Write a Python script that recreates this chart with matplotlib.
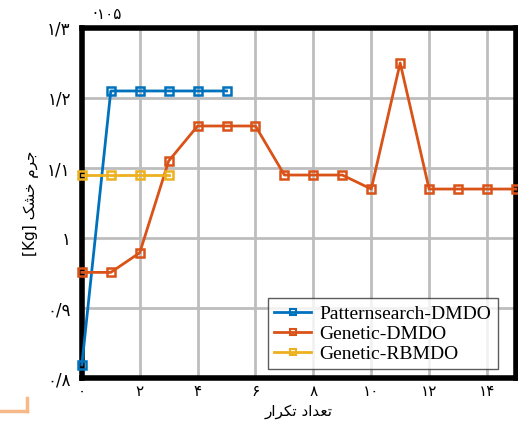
import matplotlib
matplotlib.use("Agg")
import matplotlib.pyplot as plt
from matplotlib.lines import Line2D

# Iteration numbers and dry-mass values (x 10^5 kg)
iter_pattern = [0, 1, 2, 3, 4, 5]
mass_pattern = [0.819, 1.21, 1.21, 1.21, 1.21, 1.21]

iter_genetic = [0, 1, 2, 3, 4, 5, 6, 7, 8, 9, 10, 11, 12, 13, 14, 15]
mass_genetic = [0.951, 0.951, 0.979, 1.11, 1.16, 1.16, 1.16, 1.09,
                1.09, 1.09, 1.07, 1.25, 1.07, 1.07, 1.07, 1.07]

iter_rbmdo = [0, 1, 2, 3]
mass_rbmdo = [1.09, 1.09, 1.09, 1.09]

series_names = ["Patternsearch-DMDO", "Genetic-DMDO", "Genetic-RBMDO"]
colors = ["#0072bd", "#d95319", "#edb120"]

x_ticks = [0, 2, 4, 6, 8, 10, 12, 14]
x_labels = ["۰", "۲", "۴", "۶", "۸", "۱۰", "۱۲", "۱۴"]
y_ticks = [0.8, 0.9, 1.0, 1.1, 1.2, 1.3]
y_labels = ["۰/۸", "۰/۹", "۱", "۱/۱", "۱/۲", "۱/۳"]

# Persian labels written in shaped presentation forms, visual order
xlabel_text = "\uFEAD\uFE8D\uFEAE\uFB91\uFE97 \uFEA9\uFE8D\uFEAA\uFECC\uFE97"
ylabel_text = "[Kg] \uFB8F\uFEB8\uFEA7 \uFEE1\uFEAE\uFE9F"
scale_text = "·۱۰۵"

fams = ["Liberation Serif", "DejaVu Sans"]
plt.rcParams["font.family"] = fams

fig = plt.figure(figsize=(5.18, 4.23), dpi=100)
ax = fig.add_axes([0.158, 0.106, 0.838, 0.828])

data = [(iter_pattern, mass_pattern), (iter_genetic, mass_genetic),
        (iter_rbmdo, mass_rbmdo)]
for (xs, ys), c in zip(data, colors):
    ax.plot(xs, ys, color=c, lw=2, marker="s", ms=6, mfc="none",
            mec=c, mew=1.8, clip_on=False, zorder=3)

ax.set_xlim(0, 15)
ax.set_ylim(0.8, 1.3)
ax.set_xticks(x_ticks)
ax.set_xticklabels(x_labels, fontsize=11, family=["DejaVu Sans"])
ax.set_yticks(y_ticks)
ax.set_yticklabels(y_labels, fontsize=12, family=["DejaVu Sans"])
ax.tick_params(axis="x", length=0, pad=4)
ax.tick_params(axis="y", length=0, pad=8)
ax.grid(True, color="#bdbdbd", lw=2)
ax.set_axisbelow(True)
for s in ax.spines.values():
    s.set_linewidth(4)
    s.set_color("black")

ax.set_xlabel(xlabel_text, fontsize=11, family=["DejaVu Sans"], labelpad=4)
ax.set_ylabel(ylabel_text, fontsize=11, family=["DejaVu Sans"], labelpad=6)
fig.text(0.178, 0.965, scale_text, fontsize=11, family=["DejaVu Sans"],
         ha="left", va="center")

handles = [Line2D([], [], color=c, lw=2, marker="s", ms=5, mfc="none",
                  mec=c, mew=1.5) for c in colors]
leg = ax.legend(handles, series_names, loc="lower right",
                bbox_to_anchor=(0.958, 0.025),
                prop={"family": "Liberation Serif", "size": 14},
                frameon=True, fancybox=False, handlelength=1.9,
                handletextpad=0.4, labelspacing=0.12, borderpad=0.35,
                borderaxespad=0)
leg.get_frame().set_edgecolor("#333333")
leg.get_frame().set_linewidth(1)

# small corner mark at the lower left
fig.add_artist(Line2D([0.0, 0.053], [0.028, 0.028], color="#f5b98a", lw=2.5))
fig.add_artist(Line2D([0.053, 0.053], [0.028, 0.06], color="#f5b98a", lw=2.5))

fig.savefig("out.png", dpi=100)
